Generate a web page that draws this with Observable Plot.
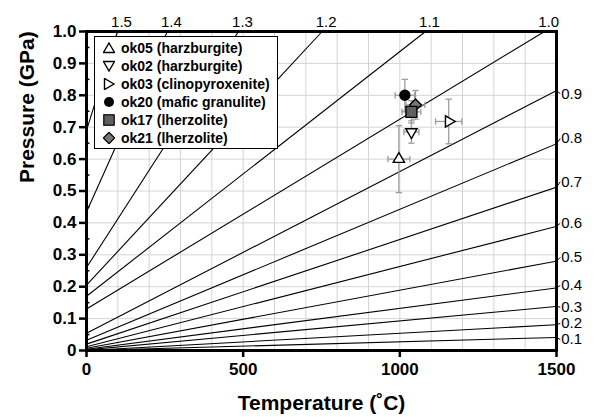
<!DOCTYPE html>
<html><head><meta charset="utf-8">
<script src="https://cdn.jsdelivr.net/npm/d3@7"></script>
<script src="https://cdn.jsdelivr.net/npm/@observablehq/plot@0.6"></script>
<style>
body{margin:0;background:#fff;}
#wrap{position:relative;width:596px;height:417px;font-family:"Liberation Sans",Arial,Helvetica,sans-serif;}
#legend{position:absolute;left:94px;top:36px;width:182px;height:111px;border:1.6px solid #000;background:#fff;}
#legend .row{position:absolute;left:0;height:18px;display:flex;align-items:center;font-weight:bold;font-size:14px;white-space:nowrap;}
#legend svg{margin-left:8px;margin-right:6px;}
</style></head><body><div id="wrap"></div>
<script>
// ---- data ----
const samples = ["ok05","ok02","ok03","ok20","ok17","ok21"];
const rocks = ["harzburgite","harzburgite","clinopyroxenite","mafic granulite","lherzolite","lherzolite"];
const temps = [997, 1037, 1156, 1016, 1037, 1050];
const pressures = [0.600, 0.685, 0.718, 0.800, 0.748, 0.770];
const tempErr = [35, 24, 42, 31, 30, 30];
const presErr = [0.105, 0.035, 0.070, 0.050, 0.035, 0.045];

// lines ending on the right frame (T = 1500): pressure at T = 0, at T = 1500, and where the label sits
const rightLabels = ["0.1","0.2","0.3","0.4","0.5","0.6","0.7","0.8","0.9"];
const rightStartP = [0.000,0.000,0.002,0.004,0.007,0.012,0.020,0.032,0.054];
const rightEndP   = [0.041,0.081,0.138,0.196,0.280,0.389,0.512,0.648,0.815];
const rightLabelP = [0.034,0.085,0.136,0.204,0.292,0.399,0.529,0.664,0.805];

// lines ending on the top frame (P = 1): pressure at T = 0 and temperature at P = 1
const topLabels = ["1.0","1.1","1.2","1.3","1.4","1.5"];
const topStartP = [0.130,0.170,0.205,0.260,0.434,0.690];
const topEndT   = [1462,1082,752,485,258,99];

const xTicks = [0,500,1000,1500];
const yTicks = [0,0.1,0.2,0.3,0.4,0.5,0.6,0.7,0.8,0.9,1.0];
const yMinor = [0.05,0.15,0.25,0.35,0.45,0.55,0.65,0.75,0.85,0.95];
const gridT = [100,200,300,400,500,600,700,800,900,1000,1100,1200,1300,1400];
const gridP = [0.1,0.2,0.3,0.4,0.5,0.6,0.7,0.8,0.9];

// ---- tables ----
const pts = samples.map((s,i)=>({s, rock: rocks[i], T: temps[i], P: pressures[i], eT: tempErr[i], eP: presErr[i]}));
const rightLines = rightLabels.map((l,i)=>({label:l, p0:rightStartP[i], pend:rightEndP[i], plab:rightLabelP[i]}));
const topLines = topLabels.map((l,i)=>({label:l, p0:topStartP[i], tend:topEndT[i]}));

// ---- symbols ----
function triangle(angle){
  const a = angle*Math.PI/180, c=Math.cos(a), sn=Math.sin(a);
  return {draw(ctx,size){
    const s=Math.sqrt(size/0.4330127), h=s*0.8660254;
    const v=[[0,-2*h/3],[s/2,h/3],[-s/2,h/3]].map(([x,y])=>[x*c-y*sn, x*sn+y*c]);
    ctx.moveTo(v[0][0],v[0][1]); ctx.lineTo(v[1][0],v[1][1]); ctx.lineTo(v[2][0],v[2][1]); ctx.closePath();
  }};
}
const diamond = {draw(ctx,size){const d=Math.sqrt(size*2)/2; ctx.moveTo(0,-d);ctx.lineTo(d,0);ctx.lineTo(0,d);ctx.lineTo(-d,0);ctx.closePath();}};
const hcap = {draw(ctx,size){const r=Math.sqrt(size)/2; ctx.moveTo(-r,0); ctx.lineTo(r,0);}};
const vcap = {draw(ctx,size){const r=Math.sqrt(size)/2; ctx.moveTo(0,-r); ctx.lineTo(0,r);}};

const styleOf = {
  ok05:{symbol:triangle(0), r:4.2, fill:"white"},
  ok02:{symbol:triangle(180), r:4.2, fill:"white"},
  ok03:{symbol:triangle(90), r:4.2, fill:"white"},
  ok20:{symbol:"circle", r:5, fill:"black"},
  ok17:{symbol:"square", r:6.2, fill:"#5f5f5f"},
  ok21:{symbol:diamond, r:4.6, fill:"#767676"}
};
const drawOrder = ["ok05","ok02","ok03","ok20","ok21","ok17"];
const errColor = "#9c9c9c";

const font = '"Liberation Sans", Arial, Helvetica, sans-serif';

const marks = [
  Plot.ruleX(gridT, {stroke:"#d4d4d4", strokeWidth:1}),
  Plot.ruleY(gridP, {stroke:"#d4d4d4", strokeWidth:1}),
  Plot.link(rightLines, {x1:0, y1:"p0", x2:1500, y2:"pend", stroke:"black", strokeWidth:1.1, clip:true}),
  Plot.link(topLines, {x1:0, y1:"p0", x2:"tend", y2:1, stroke:"black", strokeWidth:1.1, clip:true}),
  Plot.link(rightLines, {x1:1500, y1:"pend", x2:1512, y2:"plab", stroke:"black", strokeWidth:1}),
  Plot.text(rightLines, {x:1512, y:"plab", text:"label", textAnchor:"start", dx:1, fontSize:15, fontWeight:"normal"}),
  Plot.text(topLines, {x:"tend", y:1, text:"label", textAnchor:"middle", lineAnchor:"bottom", dx:4, dy:-5, fontSize:15, fontWeight:"normal"}),
  // error bars
  Plot.link(pts, {x1:d=>d.T-d.eT, x2:d=>d.T+d.eT, y1:"P", y2:"P", stroke:errColor, strokeWidth:1.3}),
  Plot.link(pts, {x1:"T", x2:"T", y1:d=>d.P-d.eP, y2:d=>d.P+d.eP, stroke:errColor, strokeWidth:1.3}),
  Plot.dot(pts, {x:d=>d.T-d.eT, y:"P", symbol:vcap, r:3.6, stroke:errColor, strokeWidth:1.3}),
  Plot.dot(pts, {x:d=>d.T+d.eT, y:"P", symbol:vcap, r:3.6, stroke:errColor, strokeWidth:1.3}),
  Plot.dot(pts, {x:"T", y:d=>d.P-d.eP, symbol:hcap, r:3.6, stroke:errColor, strokeWidth:1.3}),
  Plot.dot(pts, {x:"T", y:d=>d.P+d.eP, symbol:hcap, r:3.6, stroke:errColor, strokeWidth:1.3}),
  ...drawOrder.map(s => {
    const st = styleOf[s];
    return Plot.dot(pts.filter(d=>d.s===s), {x:"T", y:"P", symbol:st.symbol, r:st.r, fill:st.fill, stroke:"black", strokeWidth:1.4});
  }),
  // minor inward y ticks
  Plot.ruleY(yMinor, {x1:0, x2:11, stroke:"black", strokeWidth:1.5}),
  Plot.frame({stroke:"black", strokeWidth:3}),
  Plot.axisX({ticks:xTicks, tickSize:7, tickPadding:5, fontSize:17, fontWeight:"bold", strokeWidth:2.5, label:null, tickFormat:d=>String(d)}),
  Plot.axisY({ticks:yTicks, tickSize:7, tickPadding:3, fontSize:17, fontWeight:"bold", strokeWidth:2.5, label:null, tickFormat:d=>d===0?"0":d.toFixed(1)}),
  Plot.text(["Temperature (˚C)"], {frameAnchor:"bottom", lineAnchor:"middle", dy:53, fontSize:21, fontWeight:"bold"}),
  Plot.text(["Pressure (GPa)"], {frameAnchor:"left", lineAnchor:"middle", rotate:-90, dx:-59, dy:-8, fontSize:21, fontWeight:"bold"})
];

const chart = Plot.plot({
  width:596, height:417,
  marginLeft:86, marginRight:40, marginTop:31, marginBottom:67,
  style:{fontFamily:font, background:"white", overflow:"visible", color:"black"},
  x:{domain:[0,1500]},
  y:{domain:[0,1]},
  marks
});
const wrap = document.getElementById("wrap");
wrap.appendChild(chart);

// ---- legend (HTML overlay) ----
const legend = document.createElement("div");
legend.id = "legend";
const symSvg = {
  ok05:'<polygon points="6,1 11.5,10.5 0.5,10.5" fill="white" stroke="black" stroke-width="1.4"/>',
  ok02:'<polygon points="6,11 11.5,1.5 0.5,1.5" fill="white" stroke="black" stroke-width="1.4"/>',
  ok03:'<polygon points="11,6 1.5,0.5 1.5,11.5" fill="white" stroke="black" stroke-width="1.4"/>',
  ok20:'<circle cx="6" cy="6" r="5" fill="black"/>',
  ok17:'<rect x="0.8" y="0.8" width="10.4" height="10.4" fill="#5f5f5f" stroke="black" stroke-width="1.2"/>',
  ok21:'<polygon points="6,0.3 11.7,6 6,11.7 0.3,6" fill="#767676" stroke="black" stroke-width="1.2"/>'
};
samples.forEach((s,i)=>{
  const row = document.createElement("div");
  row.className = "row";
  row.style.top = (1.5 + i*18) + "px";
  row.innerHTML = `<svg width="12" height="12" viewBox="0 0 12 12">${symSvg[s]}</svg><span>${s} (${rocks[i]})</span>`;
  legend.appendChild(row);
});
wrap.appendChild(legend);
</script></body></html>
